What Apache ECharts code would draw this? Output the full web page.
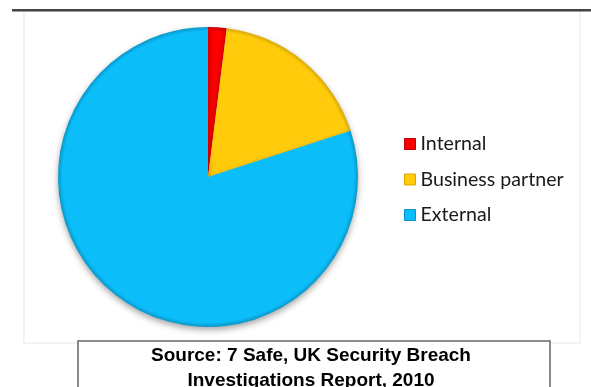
<!DOCTYPE html>
<html>
<head>
<meta charset="utf-8">
<script src="https://cdn.jsdelivr.net/npm/echarts@6/dist/echarts.min.js"></script>
<style>
  html, body { margin: 0; padding: 0; background: #ffffff; }
  #chart { width: 591px; height: 387px; }
</style>
</head>
<body>
<div id="chart"></div>
<script>
// Sources of security breaches (share of investigated cases, %)
const categories = ['Internal', 'Business partner', 'External'];
const shares = [2, 18, 80];
const baseColors = ['#ff0000', '#ffcb0a', '#0bbdf8'];
const rimColors = ['#c00000', '#d9a800', '#0a96c8'];
const sourceLines = ['Source: 7 Safe, UK Security Breach', 'Investigations Report, 2010'];

const cx = 208, cy = 177, r = 150;

// Slightly darker rim gives the bevelled look of the slices
function sliceFill(i) {
  return {
    type: 'radial', x: cx, y: cy, r: r, global: true,
    colorStops: [
      { offset: 0, color: baseColors[i] },
      { offset: 0.97, color: baseColors[i] },
      { offset: 1, color: rimColors[i] }
    ]
  };
}

const chart = echarts.init(document.getElementById('chart'), null, { renderer: 'canvas' });

chart.setOption({
  animation: false,
  backgroundColor: '#ffffff',
  legend: {
    orient: 'vertical',
    left: 399,
    top: 129,
    itemWidth: 11,
    itemHeight: 11,
    itemGap: 15.5,
    itemTextGap: 5,
    icon: 'rect',
    selectedMode: false,
    textStyle: { fontFamily: 'Lato', fontSize: 19.6, color: '#1a1a1a', lineHeight: 20 },
    data: categories.map((name, i) => ({ name: name, itemStyle: { color: baseColors[i], borderColor: rimColors[i], borderWidth: 1 } }))
  },
  graphic: [
    // plot frame
    { type: 'rect', shape: { x: 24, y: 11, width: 556, height: 332 },
      style: { fill: 'none', stroke: '#f0f0f0', lineWidth: 1.5 }, z: 0 },
    // heading rule
    { type: 'rect', shape: { x: 12, y: 9, width: 579, height: 2.5 },
      style: { fill: '#444444' }, z: 5 },
    // source box
    { type: 'rect', shape: { x: 78, y: 341, width: 472, height: 60 },
      style: { fill: '#ffffff', stroke: '#666666', lineWidth: 1.5 }, z: 5 },
    { type: 'text', x: 311, y: 355.5, z: 6,
      style: { text: sourceLines[0], fontFamily: 'Liberation Sans', fontWeight: 'bold', fontSize: 19,
               fill: '#000000', align: 'center', verticalAlign: 'middle' } },
    { type: 'text', x: 311, y: 381, z: 6,
      style: { text: sourceLines[1], fontFamily: 'Liberation Sans', fontWeight: 'bold', fontSize: 19,
               fill: '#000000', align: 'center', verticalAlign: 'middle' } }
  ],
  series: [{
    type: 'pie',
    center: [cx, cy],
    radius: r,
    startAngle: 90,
    clockwise: true,
    silent: true,
    label: { show: false },
    labelLine: { show: false },
    itemStyle: {
      shadowBlur: 6,
      shadowColor: 'rgba(0,0,0,0.35)',
      shadowOffsetY: 3,
      borderWidth: 0
    },
    data: categories.map((name, i) => ({
      name: name,
      value: shares[i],
      itemStyle: { color: sliceFill(i) }
    }))
  }]
});
</script>
</body>
</html>
